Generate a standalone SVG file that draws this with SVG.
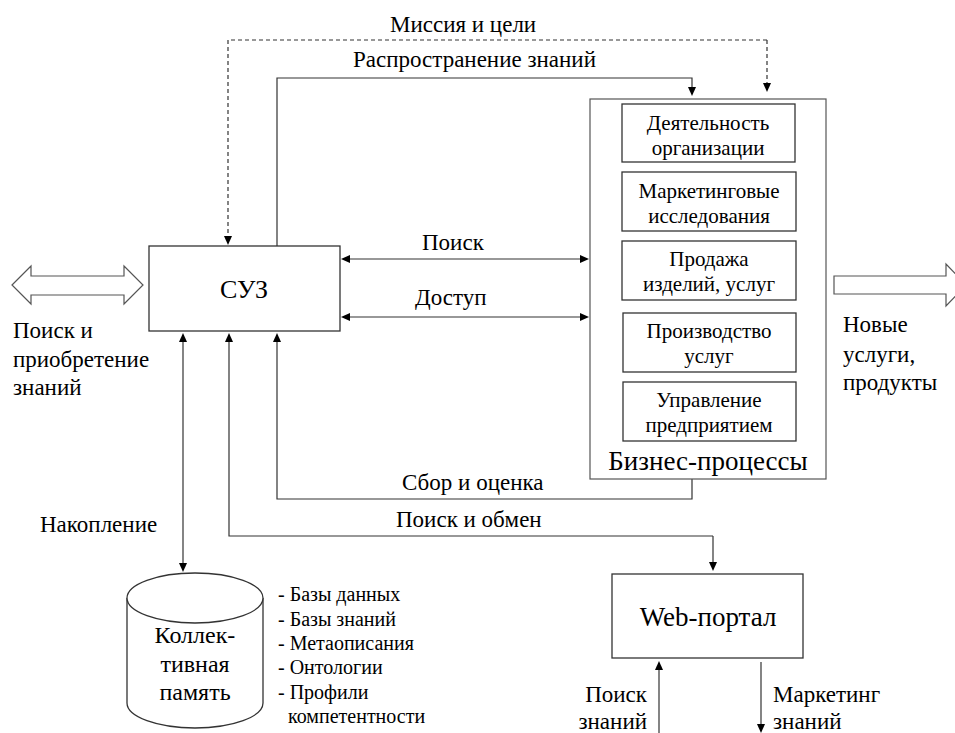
<svg xmlns="http://www.w3.org/2000/svg" width="955" height="733" viewBox="0 0 955 733" xml:lang="ru">
<rect width="955" height="733" fill="#fff"/>

<g id="connectors" fill="none" stroke="#333" stroke-width="1.2">
<path stroke-dasharray="4,3" d="M767,40 H228 V237"/>
<path stroke-dasharray="4,3" d="M767,40 V84"/>
<path d="M277,246 V78 H692 V88"/>
<path d="M349,259 H581"/>
<path d="M349,317 H581"/>
<path d="M183,341 V564"/>
<path d="M713,536 H229 V341"/>
<path d="M713,536 V563"/>
<path d="M692,479 V499 H277 V341"/>
<path d="M659,733 V669"/>
<path d="M761,662 V725"/>
<g fill="#000" stroke="none">
<polygon points="224,236 232,236 228,245"/>
<polygon points="763,83 771,83 767,92"/>
<polygon points="688,87 696,87 692,96"/>
<polygon points="350,255 350,263 341,259"/>
<polygon points="580,255 580,263 589,259"/>
<polygon points="350,313 350,321 341,317"/>
<polygon points="580,313 580,321 589,317"/>
<polygon points="179,342 187,342 183,333"/>
<polygon points="179,563 187,563 183,572"/>
<polygon points="225,342 233,342 229,333"/>
<polygon points="273,342 281,342 277,333"/>
<polygon points="709,562 717,562 713,571"/>
<polygon points="655,670 663,670 659,661"/>
<polygon points="757,724 765,724 761,733"/>
</g>
<polygon fill="#fff" stroke="#555" points="12,285 31,266 31,276 124,276 124,266 143,285 124,304 124,295 31,295 31,304"/>
<polygon fill="#fff" stroke="#555" points="834,276 946,276 946,264 966,285 946,306 946,294 834,294"/>
</g>

<g id="labels" fill="#000">
<text font-family="Liberation Serif" font-size="23" x="390" y="32">Миссия и цели</text>
<text font-family="Liberation Serif" font-size="23" x="353" y="67">Распространение знаний</text>
<text font-family="Liberation Serif" font-size="23" x="422" y="250">Поиск</text>
<text font-family="Liberation Serif" font-size="23" x="415" y="305">Доступ</text>
<text font-family="Liberation Serif" font-size="23" x="402" y="490">Сбор и оценка</text>
<text font-family="Liberation Serif" font-size="23" x="396" y="527">Поиск и обмен</text>
<text font-family="Liberation Serif" font-size="23" x="40" y="532">Накопление</text>
<text font-family="Liberation Serif" font-size="23" x="13" y="338">Поиск и</text>
<text font-family="Liberation Serif" font-size="23" x="13" y="367">приобретение</text>
<text font-family="Liberation Serif" font-size="23" x="13" y="395">знаний</text>
<text font-family="Liberation Serif" font-size="23" x="843" y="332">Новые</text>
<text font-family="Liberation Serif" font-size="23" x="843" y="362">услуги,</text>
<text font-family="Liberation Serif" font-size="23" x="843" y="390">продукты</text>
<text font-family="Liberation Serif" font-size="23" x="647" y="702" text-anchor="end">Поиск</text>
<text font-family="Liberation Serif" font-size="23" x="647" y="729" text-anchor="end">знаний</text>
<text font-family="Liberation Serif" font-size="23" x="773" y="702">Маркетинг</text>
<text font-family="Liberation Serif" font-size="23" x="773" y="729">знаний</text>
</g>
<g id="list" fill="#000">
<text font-family="Liberation Serif" font-size="20" x="278" y="601">- Базы данных</text>
<text font-family="Liberation Serif" font-size="20" x="278" y="626">- Базы знаний</text>
<text font-family="Liberation Serif" font-size="20" x="278" y="650">- Метаописания</text>
<text font-family="Liberation Serif" font-size="20" x="278" y="674">- Онтологии</text>
<text font-family="Liberation Serif" font-size="20" x="278" y="699">-  Профили</text>
<text font-family="Liberation Serif" font-size="20" x="288" y="723">компетентности</text>
</g>

<g id="suz">
<rect x="149" y="246" width="191" height="85" fill="#fff" stroke="#333" stroke-width="1.3"/>
<text x="244" y="298" font-family="Liberation Serif" font-size="26" text-anchor="middle">СУЗ</text>
</g>

<g id="business">
<rect x="590" y="99" width="236" height="380" fill="#fff" stroke="#555" stroke-width="1.2"/>
<text x="708" y="470" font-family="Liberation Serif" font-size="27" text-anchor="middle">Бизнес-процессы</text>
</g>
<g text-anchor="middle" fill="#000">
<g id="bp1">
<rect x="622" y="104" width="173" height="58" fill="#fff" stroke="#333" stroke-width="1.3"/>
<text font-family="Liberation Serif" font-size="21" x="708" y="130">Деятельность</text>
<text font-family="Liberation Serif" font-size="21" x="708" y="155">организации</text>
</g>
<g id="bp2">
<rect x="622" y="172" width="174" height="59" fill="#fff" stroke="#333" stroke-width="1.3"/>
<text font-family="Liberation Serif" font-size="21" x="709" y="198">Маркетинговые</text>
<text font-family="Liberation Serif" font-size="21" x="709" y="223">исследования</text>
</g>
<g id="bp3">
<rect x="622" y="241" width="174" height="59" fill="#fff" stroke="#333" stroke-width="1.3"/>
<text font-family="Liberation Serif" font-size="21" x="709" y="266">Продажа</text>
<text font-family="Liberation Serif" font-size="21" x="709" y="291">изделий, услуг</text>
</g>
<g id="bp4">
<rect x="623" y="313" width="173" height="59" fill="#fff" stroke="#333" stroke-width="1.3"/>
<text font-family="Liberation Serif" font-size="21" x="709" y="338">Производство</text>
<text font-family="Liberation Serif" font-size="21" x="709" y="363">услуг</text>
</g>
<g id="bp5">
<rect x="623" y="382" width="173" height="59" fill="#fff" stroke="#333" stroke-width="1.3"/>
<text font-family="Liberation Serif" font-size="21" x="709" y="407">Управление</text>
<text font-family="Liberation Serif" font-size="21" x="709" y="432">предприятием</text>
</g>
</g>

<g id="memory" text-anchor="middle" fill="#000">
<path d="M127,598 V703 A68,25 0 0 0 263,703 V598" fill="#fff" stroke="#333" stroke-width="1.3"/>
<ellipse cx="195" cy="598" rx="68" ry="25" fill="#fff" stroke="#333" stroke-width="1.3"/>
<text font-family="Liberation Serif" font-size="24" x="195" y="643">Коллек-</text>
<text font-family="Liberation Serif" font-size="24" x="195" y="672">тивная</text>
<text font-family="Liberation Serif" font-size="24" x="195" y="700">память</text>
</g>

<g id="webportal">
<rect x="612" y="574" width="191" height="84" fill="#fff" stroke="#333" stroke-width="1.3"/>
<text x="708" y="626" font-family="Liberation Serif" font-size="27" text-anchor="middle">Web-портал</text>
</g>
</svg>
